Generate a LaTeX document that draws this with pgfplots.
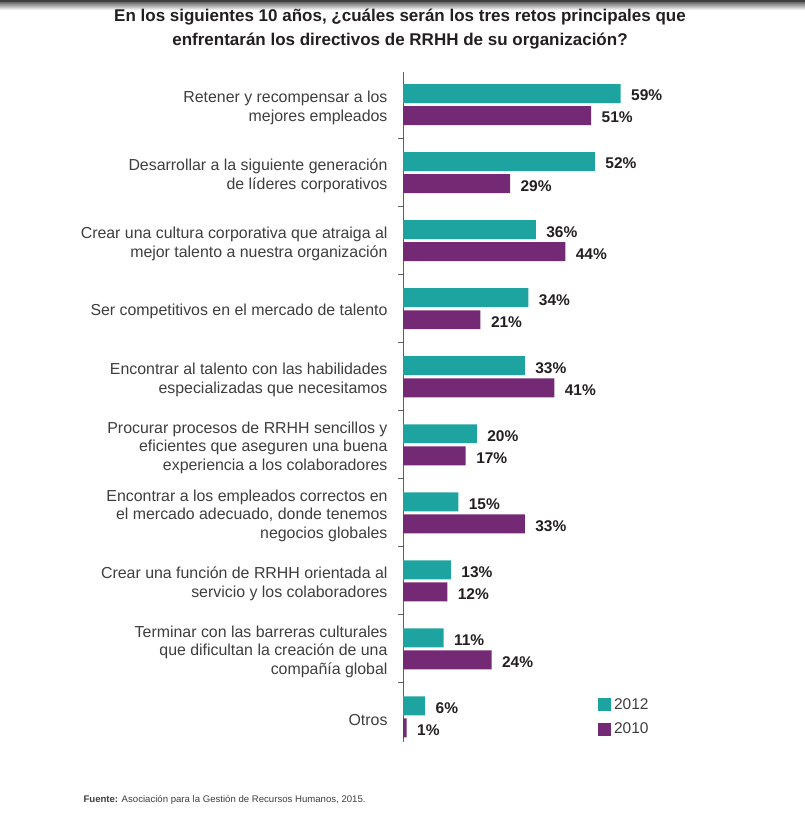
\documentclass[border=0pt]{standalone}
\usepackage{fontspec}
\setmainfont{Liberation Sans}
\usepackage{pgfplots}
\pgfplotsset{compat=1.18}

\definecolor{tealbar}{RGB}{30,164,160}
\definecolor{purplebar}{RGB}{116,41,116}
\definecolor{labelgray}{RGB}{62,62,62}
\definecolor{valuegray}{RGB}{35,31,32}
\definecolor{axisgray}{RGB}{95,95,95}

\newcommand{\lblfont}{\fontsize{15.9bp}{18.5bp}\selectfont}
\newcommand{\valfont}{\fontsize{15.5bp}{18.5bp}\selectfont}

\begin{document}
\begin{tikzpicture}
\path[use as bounding box] (0,0) rectangle (805bp,-825bp);
% page edge strip
\fill[black!75] (0,0) rectangle (805bp,-2.5bp);
\shade[top color=black!55, bottom color=white] (0,-2.5bp) rectangle (805bp,-10bp);

\node[font=\bfseries\fontsize{17bp}{24.5bp}\selectfont, align=center, text=valuegray]
  at (400bp,-29bp) {En los siguientes 10 años, ¿cuáles serán los tres retos principales que\\enfrentarán los directivos de RRHH de su organización?};

\begin{axis}[
  at={(403bp,-72bp)}, anchor=north west,
  scale only axis, width=221.4bp, height=670bp,
  xmin=0, xmax=60, ymin=0.52, ymax=10.37, y dir=reverse,
  hide x axis, axis y line*=left,
  y axis line style={draw=axisgray, line width=0.9bp},
  xbar, bar width=0.279,
  ytick={1,...,10},
  yticklabels={
    {Retener y recompensar a los\\mejores empleados},
    {Desarrollar a la siguiente generación\\de líderes corporativos},
    {Crear una cultura corporativa que atraiga al\\mejor talento a nuestra organización},
    {Ser competitivos en el mercado de talento},
    {Encontrar al talento con las habilidades\\especializadas que necesitamos},
    {Procurar procesos de RRHH sencillos y\\eficientes que aseguren una buena\\experiencia a los colaboradores},
    {Encontrar a los empleados correctos en\\el mercado adecuado, donde tenemos\\negocios globales},
    {Crear una función de RRHH orientada al\\servicio y los colaboradores},
    {Terminar con las barreras culturales\\que dificultan la creación de una\\compañía global},
    {Otros}},
  major tick length=0pt,
  minor ytick={1.5,2.5,...,9.5},
  minor tick length=5bp, tick align=outside,
  minor tick style={draw=axisgray, line width=0.9bp},
  yticklabel style={font=\lblfont, align=right, anchor=east, xshift=-12bp, yshift=-3bp, text=labelgray},
  clip=false,
  /pgf/number format/assume math mode=true,
  nodes near coords={\pgfmathprintnumber{\pgfplotspointmeta}\%},
  every node near coord/.append style={font=\bfseries\valfont, text=valuegray, anchor=west, xshift=7bp, yshift=-2bp},
  legend style={at={(axis cs:52.8,9.7)}, anchor=north west, draw=none, fill=none,
    font=\fontsize{15.5bp}{18bp}\selectfont, text=labelgray, row sep=8bp, inner sep=0pt,
    /tikz/every even column/.append style={column sep=0pt}},
  legend cell align=left,
  legend image code/.code={\fill[#1] (0bp,-6.5bp) rectangle (13bp,6.5bp);},
]
\addplot[fill=tealbar, draw=none, bar shift=-0.162] coordinates {
  (59,1) (52,2) (36,3) (34,4) (33,5) (20,6) (15,7) (13,8) (11,9) (6,10)};
\addplot[fill=purplebar, draw=none, bar shift=0.162] coordinates {
  (51,1) (29,2) (44,3) (21,4) (41,5) (17,6) (33,7) (12,8) (24,9) (1,10)};
\legend{\hspace{1bp}2012,\hspace{1bp}2010}
\end{axis}

\node[anchor=west, font=\fontsize{9.6bp}{11bp}\selectfont, text=labelgray]
  at (80bp,-800bp) {\textbf{Fuente:} Asociación para la Gestión de Recursos Humanos, 2015.};
\end{tikzpicture}
\end{document}
